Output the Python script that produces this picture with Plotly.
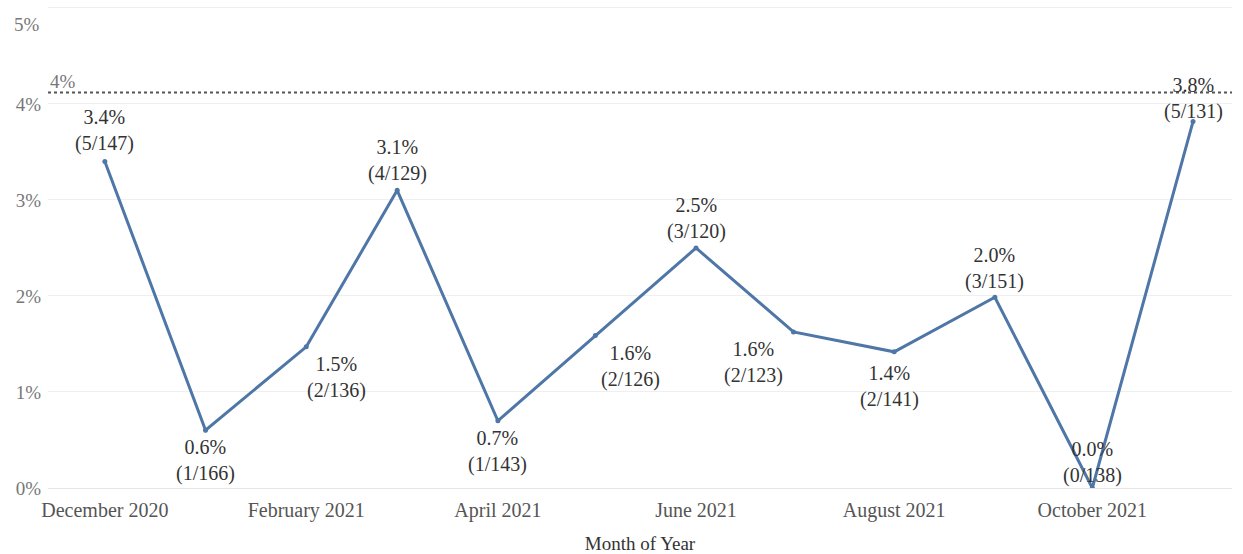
import plotly.graph_objects as go

# Monthly cases (numerator) over total reviewed (denominator)
months = ["2020-12-01", "2021-01-01", "2021-02-01", "2021-03-01", "2021-04-01", "2021-05-01",
          "2021-06-01", "2021-07-01", "2021-08-01", "2021-09-01", "2021-10-01", "2021-11-01"]
cases = [5, 1, 2, 4, 1, 2, 3, 2, 2, 3, 0, 5]
totals = [147, 166, 136, 129, 143, 126, 120, 123, 141, 151, 138, 131]
target_rate = 4.12  # reference line (%)
x_ticks = ["2020-12-01", "2021-02-01", "2021-04-01", "2021-06-01", "2021-08-01", "2021-10-01"]
y_ticks = [0, 1, 2, 3, 4, 5]

rates = [100.0 * c / t for c, t in zip(cases, totals)]

# label offsets (px) relative to each point: (xshift, yshift)
label_offsets = [(0, 31), (0, -30), (30, -31), (0, 30), (0, -31), (35, -31),
                 (0, 29), (-40, -31), (-5, -35), (0, 29), (0, 26), (0, 23)]

FONT = "Liberation Serif, DejaVu Serif, serif"
LINE = "#4e76a6"
TICK_FONT = dict(family=FONT, size=19, color="#777777")

fig = go.Figure()
fig.add_trace(go.Scatter(
    x=months, y=rates, mode="lines+markers",
    line=dict(color=LINE, width=3),
    marker=dict(color=LINE, size=5),
    hoverinfo="skip", showlegend=False,
))

# dotted reference line
fig.add_shape(type="line", xref="paper", yref="y", x0=0, x1=1,
              y0=target_rate, y1=target_rate,
              line=dict(color="#555555", width=2, dash="dot"))
fig.add_annotation(xref="paper", yref="y", x=0, y=target_rate,
                   text=f"{target_rate:.0f}%", showarrow=False,
                   xanchor="left", yanchor="bottom", xshift=0, yshift=-2,
                   font=dict(family=FONT, size=19, color="#777777"))

for m, r, c, t, (dx, dy) in zip(months, rates, cases, totals, label_offsets):
    fig.add_annotation(x=m, y=r, text=f"{r:.1f}%<br>({c}/{t})", showarrow=False,
                       xshift=dx, yshift=dy, align="center",
                       font=dict(family=FONT, size=20, color="#333333"))

# the top tick label sits just under its gridline so it stays on the page
top = y_ticks[-1]
fig.add_annotation(xref="paper", yref="y", x=0, y=top, text=f"{top}%", showarrow=False,
                   xanchor="right", yanchor="top", xshift=-6, yshift=-4, font=TICK_FONT)

fig.update_layout(
    width=1243, height=554,
    margin=dict(l=48, r=11, t=0, b=66, autoexpand=False),
    paper_bgcolor="white", plot_bgcolor="white",
    font=dict(family=FONT, size=18, color="#666666"),
    xaxis=dict(
        type="date", automargin=False,
        range=["2020-11-13 12:00", "2021-11-13"],
        tickvals=x_ticks,
        tickformat="%B %Y",
        showgrid=False, zeroline=False, showline=False, ticks="",
        ticklabelstandoff=8,
        tickfont=dict(family=FONT, size=20, color="#555555"),
        title=dict(text="Month of Year", font=dict(family=FONT, size=19, color="#333333"), standoff=20),
    ),
    yaxis=dict(
        automargin=False,
        range=[0, 5.083], tickvals=y_ticks,
        ticktext=[f"{v}%" if v != top else "" for v in y_ticks],
        showgrid=True, gridcolor="#efefef", gridwidth=1,
        zeroline=True, zerolinecolor="#e6e6e6", zerolinewidth=1,
        showline=False, ticks="",
        ticklabelstandoff=6,
        tickfont=TICK_FONT,
    ),
)

fig.write_html("out.html")
